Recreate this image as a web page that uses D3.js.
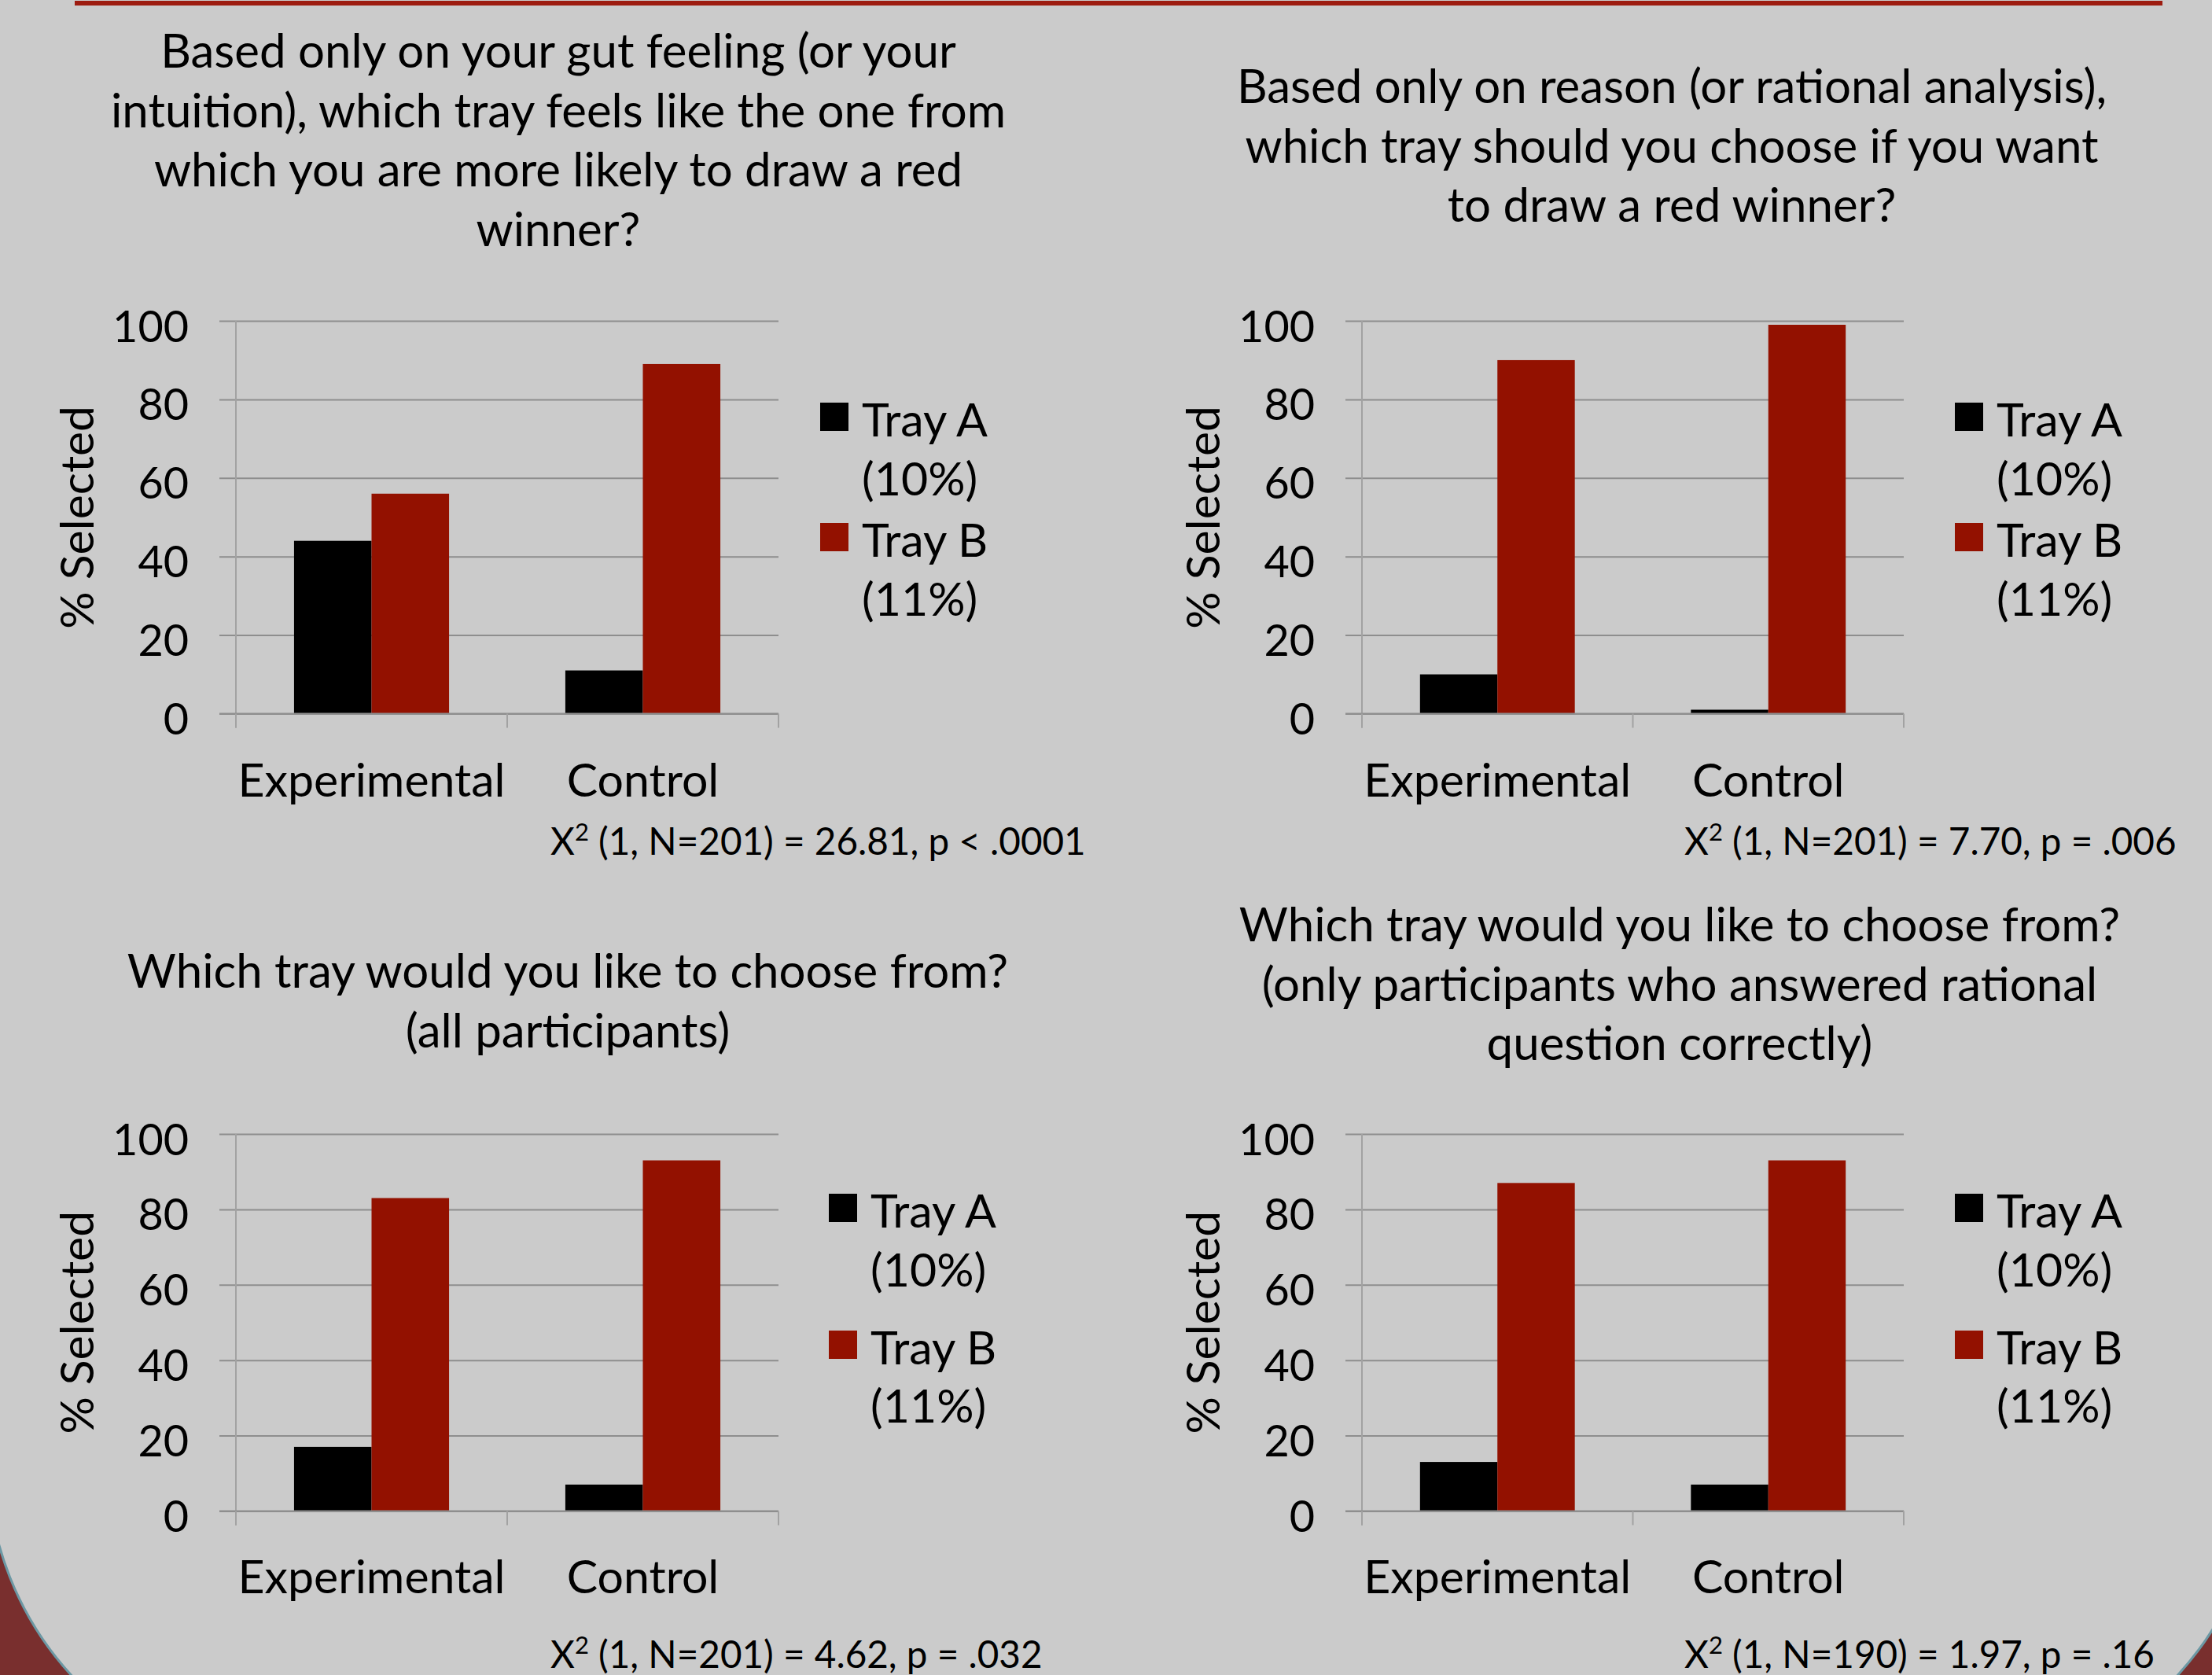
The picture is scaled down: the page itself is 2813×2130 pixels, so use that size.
<!DOCTYPE html>
<html>
<head>
<meta charset="utf-8">
<script src="https://cdn.jsdelivr.net/npm/d3@7"></script>
<style>
  html, body { margin: 0; padding: 0; background: #cbcbcb; }
  svg { display: block; }
  text { font-family: Lato, "Open Sans", sans-serif; fill: #000; }
</style>
</head>
<body>
<svg id="chart" width="2813" height="2130"></svg>
<script>
// ---- data ----
const categories = ["Experimental", "Control"];
const series = ["Tray A", "Tray B"];
const seriesOdds = ["(10%)", "(11%)"];
const seriesColors = ["#000000", "#931100"];
const yTicks = [0, 20, 40, 60, 80, 100];

// percent of participants selecting each tray, by condition
const gutTrayA = [44, 11];
const gutTrayB = [56, 89];
const reasonTrayA = [10, 1];
const reasonTrayB = [90, 99];
const allTrayA = [17, 7];
const allTrayB = [83, 93];
const correctTrayA = [13, 7];
const correctTrayB = [87, 93];

const gutTitle = ["Based only on your gut feeling (or your", "intuition), which tray feels like the one from", "which you are more likely to draw a red", "winner?"];
const reasonTitle = ["Based only on reason (or rational analysis),", "which tray should you choose if you want", "to draw a red winner?"];
const allTitle = ["Which tray would you like to choose from?", "(all participants)"];
const correctTitle = ["Which tray would you like to choose from?", "(only participants who answered rational", "question correctly)"];

// chi-square results: [df, N, statistic, p-text]
const gutStat = ["1", "201", "26.81", "p < .0001"];
const reasonStat = ["1", "201", "7.70", "p = .006"];
const allStat = ["1", "201", "4.62", "p = .032"];
const correctStat = ["1", "190", "1.97", "p = .16"];

const yLabel = "% Selected";

// ---- page furniture ----
const W = 2813, H = 2130;
const svg = d3.select("#chart");

svg.append("rect").attr("width", W).attr("height", H).attr("fill", "#792f2e");
// rounded slide panel
svg.append("rect")
  .attr("x", -16).attr("y", -700)
  .attr("width", 2892).attr("height", 2962)
  .attr("rx", 406).attr("ry", 406)
  .attr("fill", "#cbcbcb")
  .attr("stroke", "#6c98a4").attr("stroke-width", 3);
// accent rule along the top
svg.append("rect").attr("x", 95).attr("y", 1).attr("width", 2655).attr("height", 6).attr("fill", "#9d1c10");

// ---- panel layout ----
const panels = [
  { a: gutTrayA, b: gutTrayB, title: gutTitle, stat: gutStat,
    axisX: 300, plotW: 690, top: 408, bottom: 907.5,
    titleX: 710, titleY: 86,
    legX: 1043, legTextX: 1096, legY: [555, 630, 708, 783],
    statX: 700, statY: 1087 },
  { a: reasonTrayA, b: reasonTrayB, title: reasonTitle, stat: reasonStat,
    axisX: 1732, plotW: 689, top: 408, bottom: 907.5,
    titleX: 2126, titleY: 131,
    legX: 2486, legTextX: 2539, legY: [555, 630, 708, 783],
    statX: 2142, statY: 1087 },
  { a: allTrayA, b: allTrayB, title: allTitle, stat: allStat,
    axisX: 300, plotW: 690, top: 1442, bottom: 1921.4,
    titleX: 722, titleY: 1256,
    legX: 1054, legTextX: 1107, legY: [1561, 1636, 1735, 1809],
    statX: 700, statY: 2121 },
  { a: correctTrayA, b: correctTrayB, title: correctTitle, stat: correctStat,
    axisX: 1732, plotW: 689, top: 1442, bottom: 1921.4,
    titleX: 2136, titleY: 1197,
    legX: 2486, legTextX: 2539, legY: [1561, 1636, 1735, 1809],
    statX: 2142, statY: 2121 }
];

const FS_TICK = 55.7;   // value-axis numbers
const FS = 59;          // category / legend text
const FS_TITLE = 60;    // question text
const FS_STAT = 47.6;   // chi-square line
const LINE = 75.5;
const GRID = "#8e8e8e";

panels.forEach(p => {
  const g = svg.append("g");

  const y = d3.scaleLinear().domain([0, 100]).range([p.bottom, p.top]);
  const x0 = d3.scaleBand().domain(categories).range([p.axisX, p.axisX + p.plotW]).padding(0);
  const x1 = d3.scaleBand().domain(series).range([0, x0.bandwidth()]).paddingInner(0).paddingOuter(0.75);

  // title
  const t = g.append("text").attr("text-anchor", "middle").style("font-size", FS_TITLE + "px");
  p.title.forEach((line, i) => {
    t.append("tspan").attr("x", p.titleX).attr("y", p.titleY + i * LINE).text(line);
  });

  // value axis with gridlines
  const yAxis = d3.axisLeft(y).tickValues(yTicks).tickSizeInner(-p.plotW).tickSizeOuter(0).tickPadding(60);
  const ya = g.append("g").attr("transform", `translate(${p.axisX},0)`).call(yAxis);
  ya.select(".domain").remove();
  ya.selectAll(".tick line").attr("x1", -21).attr("stroke", GRID).attr("stroke-width", 2);
  ya.selectAll(".tick text").attr("dy", "26px").attr("font-family", null)
    .style("font-size", FS_TICK + "px").attr("fill", "#000");

  // vertical axis line
  g.append("line").attr("x1", p.axisX).attr("x2", p.axisX)
    .attr("y1", p.top).attr("y2", p.bottom + 18)
    .attr("stroke", "#a2a2a2").attr("stroke-width", 2);

  // bars
  const rows = categories.map((c, i) => ({ cat: c, vals: [p.a[i], p.b[i]] }));
  const grp = g.selectAll(".grp").data(rows).join("g")
    .attr("transform", d => `translate(${x0(d.cat)},0)`);
  grp.selectAll("rect").data(d => d.vals.map((v, k) => ({ v, s: series[k], k })))
    .join("rect")
    .attr("x", d => x1(d.s))
    .attr("width", x1.bandwidth())
    .attr("y", d => y(d.v))
    .attr("height", d => y(0) - y(d.v))
    .attr("fill", d => seriesColors[d.k]);

  // category axis
  const xAxis = d3.axisBottom(x0).tickSize(0).tickPadding(0);
  const xa = g.append("g").attr("transform", `translate(0,${p.bottom})`).call(xAxis);
  xa.select(".domain").remove();
  xa.selectAll(".tick text").attr("dy", "105px").attr("font-family", null)
    .style("font-size", FS + "px").attr("fill", "#000");
  g.append("line").attr("x1", p.axisX - 21).attr("x2", p.axisX + p.plotW)
    .attr("y1", p.bottom).attr("y2", p.bottom)
    .attr("stroke", GRID).attr("stroke-width", 2);
  const bounds = [x0.range()[0]].concat(categories.map(c => x0(c) + x0.bandwidth()));
  g.selectAll(".ctick").data(bounds).join("line")
    .attr("x1", d => d).attr("x2", d => d)
    .attr("y1", p.bottom).attr("y2", p.bottom + 18)
    .attr("stroke", "#a2a2a2").attr("stroke-width", 2);

  // y title
  g.append("text")
    .attr("transform", `translate(${p.axisX - 181},${(p.top + p.bottom) / 2}) rotate(-90)`)
    .attr("text-anchor", "middle")
    .style("font-size", "59px")
    .text(yLabel);

  // legend
  series.forEach((s, k) => {
    const by = p.legY[k * 2];
    g.append("rect").attr("x", p.legX).attr("y", by - 43).attr("width", 36).attr("height", 36)
      .attr("fill", seriesColors[k]);
    g.append("text").attr("x", p.legTextX).attr("y", by).style("font-size", FS + "px").text(s);
    g.append("text").attr("x", p.legTextX).attr("y", p.legY[k * 2 + 1]).style("font-size", FS + "px").text(seriesOdds[k]);
  });

  // chi-square line
  const st = g.append("text").attr("x", p.statX).attr("y", p.statY).style("font-size", FS_STAT + "px");
  st.append("tspan").text("X");
  st.append("tspan").attr("dy", -18).style("font-size", "31px").text("2");
  st.append("tspan").attr("dy", 18).text(` (${p.stat[0]}, N=${p.stat[1]}) = ${p.stat[2]}, ${p.stat[3]}`);
});
</script>
</body>
</html>
